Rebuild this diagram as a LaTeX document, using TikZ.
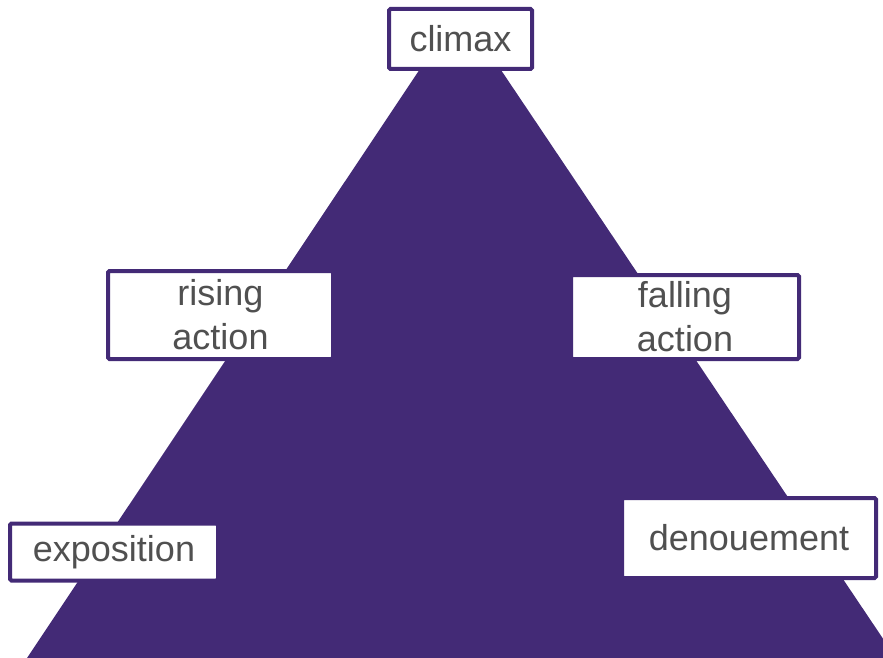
\documentclass[tikz,border=0pt]{standalone}
\usepackage{fontspec}
\setmainfont{Liberation Sans}
\usepackage{tikz,xcolor}

\definecolor{plotpurple}{HTML}{432A76}
\definecolor{labelgray}{HTML}{505050}

\tikzset{
	stage/.style={draw=plotpurple, line width=4pt, fill=white, rounded corners=1.5pt,
		text=labelgray, align=center, inner sep=0pt, font=\fontsize{36}{44}\selectfont}
}

\begin{document}
\begin{tikzpicture}[x=1pt, y=-1pt]

	% page frame
	\useasboundingbox (0,0) rectangle (883,658);
	\clip (0,0) rectangle (883,658);

	% plot triangle
	\fill[plotpurple] (460,9) -- (27,658) -- (896,658) -- cycle;

	% stages
	\node[stage, minimum width=143pt, minimum height=60pt] (climax) at (460.5,39) {climax};
	\node[stage, minimum width=225pt, minimum height=88pt] (rising) at (220.5,315) {rising\\action};
	\node[stage, minimum width=228pt, minimum height=84pt] (falling) at (685,317) {falling\\action};
	\node[stage, minimum width=208pt, minimum height=57pt] (exposition) at (114,552) {exposition};
	\node[stage, minimum width=254pt, minimum height=80pt] (denouement) at (749,538) {denouement};

\end{tikzpicture}
\end{document}
